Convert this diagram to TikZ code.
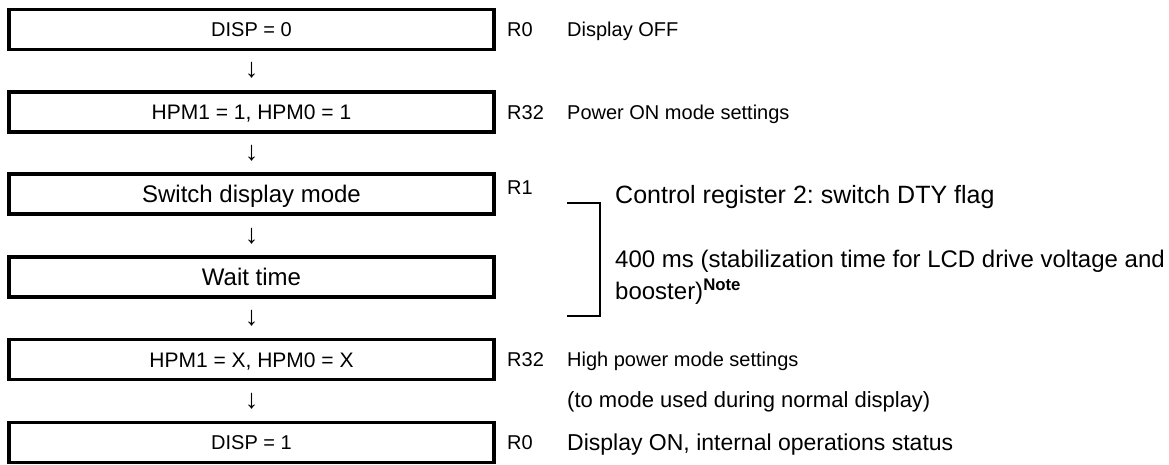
\documentclass[tikz,border=0pt]{standalone}
\usepackage{fontspec}
\setmainfont{Liberation Sans}
\usetikzlibrary{positioning}

\begin{document}
\frenchspacing
\begin{tikzpicture}[
  x=1pt, y=-1pt,
  font=\fontsize{20}{24}\selectfont,
  stepbox/.style={
    rectangle,
    draw=black,
    line width=3.5pt,
    minimum width=485pt,
    minimum height=40pt,
    text height=14.3pt,
    text depth=0pt,
    inner sep=0pt
  },
  flowarrow/.style={
    inner sep=0pt,
    font=\fontsize{27}{30}\selectfont
  },
  reglabel/.style={
    anchor=base west,
    inner sep=0pt
  },
  desc/.style={
    anchor=base west,
    inner sep=0pt
  },
  midtext/.style={
    font=\fontsize{21}{24}\selectfont,
    text height=15pt
  },
  bigtext/.style={
    font=\fontsize{24}{28}\selectfont,
    text height=17.2pt
  },
  bracket/.style={
    line width=1.5pt
  }
]
\useasboundingbox (0,0) rectangle (1169,464);

% Column 1: Flow boxes (x = 251.5)
\node[stepbox] (disp0) at (251.5, 29.5) {DISP = 0};
\node[stepbox, midtext] (hpmon) at (251.5, 112) {HPM1 = 1, HPM0 = 1};
\node[stepbox, bigtext] (swmode) at (251.5, 194) {Switch display mode};
\node[stepbox, bigtext] (wait) at (251.5, 277) {Wait time};
\node[stepbox, midtext] (hpmx) at (251.5, 359.5) {HPM1 = X, HPM0 = X};
\node[stepbox] (disp1) at (251.5, 442.5) {DISP = 1};

% Arrows between the boxes
\node[flowarrow] (ar1) at (251.5, 70) {↓};
\node[flowarrow] (ar2) at (251.5, 153) {↓};
\node[flowarrow] (ar3) at (251.5, 236) {↓};
\node[flowarrow] (ar4) at (251.5, 318) {↓};
\node[flowarrow] (ar5) at (251.5, 401) {↓};

% Column 2: Registers (x = 507)
\node[reglabel] (reg0a) at (507, 36.5) {R0};
\node[reglabel] (reg32a) at (507, 119) {R32};
\node[reglabel] (reg1) at (507, 194) {R1};
\node[reglabel] (reg32b) at (507, 366.5) {R32};
\node[reglabel] (reg0b) at (507, 449.5) {R0};

% Column 3: Descriptions (x = 567, bracketed ones at x = 615)
\node[desc] (dsoff) at (567, 36.5) {Display OFF};
\node[desc] (dpwr) at (567, 119) {Power ON mode settings};
\node[desc, font=\fontsize{25}{28}\selectfont] (dctrl) at (615, 203) {Control register 2: switch DTY flag};
\node[desc, bigtext] (dwait) at (615, 267.5) {400 ms (stabilization time for LCD drive voltage and};
\node[desc, bigtext] (dwaitb) at (615, 299.5) {booster)\textsuperscript{\bfseries Note}};
\node[desc] (dhigh) at (567, 366.5) {High power mode settings};
\node[desc, font=\fontsize{22}{26}\selectfont] (dhighb) at (567, 407.5) {(to mode used during normal display)};
\node[desc, font=\fontsize{23}{26}\selectfont] (dson) at (567, 450.5) {Display ON, internal operations status};

% Bracket round the wait step
\coordinate (brtop) at (567, 203);
\coordinate (brbot) at (567, 316);
\draw[bracket] (brtop) -- ++(33, 0) |- (brbot);

\end{tikzpicture}
\end{document}
